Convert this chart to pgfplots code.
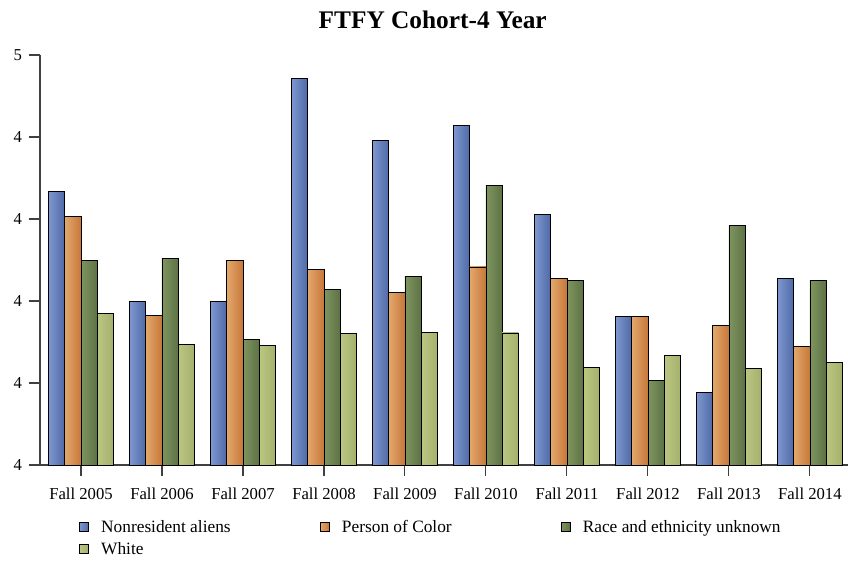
\documentclass[border=0pt]{standalone}
\usepackage{pgfplots}
\usepackage{pgfplotstable}
\pgfplotsset{compat=1.18}
\usepackage{fontspec}
\setmainfont{Liberation Serif}
\definecolor{bL}{HTML}{7E97D0}
\definecolor{bR}{HTML}{4E69A6}
\definecolor{oL}{HTML}{E3A86C}
\definecolor{oR}{HTML}{C7773A}
\definecolor{gL}{HTML}{7F9560}
\definecolor{gR}{HTML}{5D7244}
\definecolor{lL}{HTML}{BBC681}
\definecolor{lR}{HTML}{A4B16C}
\pgfplotstableread{
x blue orange green white
0 4.168 4.107 3.998 3.870
1 3.899 3.864 4.003 3.793
2 3.899 3.998 3.807 3.792
3 4.442 3.976 3.928 3.820
4 4.292 3.920 3.959 3.824
5 4.329 3.983 4.182 3.822
6 4.110 3.954 3.950 3.737
7 3.862 3.863 3.707 3.767
8 3.678 3.841 4.085 3.735
9 3.956 3.789 3.950 3.750
}\datatable
\pgfplotsset{
  sBlue/.style={ybar, bar width=0.2, bar shift=-0.3, left color=bL, right color=bR, draw=black, line width=0.6pt},
  sOrange/.style={ybar, bar width=0.2, bar shift=-0.1, left color=oL, right color=oR, draw=black, line width=0.6pt},
  sGreen/.style={ybar, bar width=0.2, bar shift=0.1, left color=gL, right color=gR, draw=black, line width=0.6pt},
  sWhite/.style={ybar, bar width=0.2, bar shift=0.3, left color=lL, right color=lR, draw=black, line width=0.6pt},
}
\begin{document}
\begin{tikzpicture}
\begin{axis}[
  at={(0pt,0pt)}, anchor=south west,
  scale only axis, width=606pt, height=307.5pt,
  xmin=-0.506, xmax=9.47, ymin=3.5, ymax=4.5,
  ytick={3.5,3.7,3.9,4.1,4.3,4.5},
  yticklabels={4,4,4,4,4,5},
  xtick={0,1,2,3,4,5,6,7,8,9},
  xticklabels={Fall 2005,Fall 2006,Fall 2007,Fall 2008,Fall 2009,Fall 2010,Fall 2011,Fall 2012,Fall 2013,Fall 2014},
  axis x line*=bottom, axis y line*=left,
  axis line style={-, black!75, line width=0.8pt},
  tick align=outside, major tick length=8.5pt,
  tick style={black!75, line width=0.8pt},
  minor tick num=0,
  tick label style={font=\fontsize{12.5}{14}\selectfont},
  x tick label style={yshift=-5.5pt},
  y tick label style={xshift=-1.5pt},
  title={\textbf{FTFY Cohort-4 Year}},
  title style={font=\fontsize{19}{21}\selectfont, at={(0.486,1)}, anchor=base, yshift=13.5pt},
  legend columns=3,
  legend cell align=left,
  legend style={draw=none, at={(0.048,-0.127)}, anchor=north west,
    font=\fontsize{13}{15}\selectfont,
    /tikz/every odd column/.append style={column sep=7pt},
    /tikz/every even column/.append style={column sep=0pt},
    /tikz/row sep=2pt, inner sep=0pt},
  legend image code/.code={\draw[#1, draw=black, line width=0.6pt] (0pt,-3.5pt) rectangle (7pt,3.5pt);},
]
\addlegendimage{sBlue}
\addlegendentry{\makebox[162pt][l]{Nonresident aliens}}
\addlegendimage{sOrange}
\addlegendentry{\makebox[162pt][l]{Person of Color}}
\addlegendimage{sGreen}
\addlegendentry{\makebox[162pt][l]{Race and ethnicity unknown}}
\addlegendimage{sWhite}
\addlegendentry{\makebox[162pt][l]{White}}
\pgfplotsinvokeforeach{0,1,2,3,4,5,6,7,8,9}{
  \addplot[sBlue, forget plot] table[x=x, y=blue, restrict x to domain=#1:#1] {\datatable};
  \addplot[sOrange, forget plot] table[x=x, y=orange, restrict x to domain=#1:#1] {\datatable};
  \addplot[sGreen, forget plot] table[x=x, y=green, restrict x to domain=#1:#1] {\datatable};
  \addplot[sWhite, forget plot] table[x=x, y=white, restrict x to domain=#1:#1] {\datatable};
}
\end{axis}
\pgfresetboundingbox
\path[use as bounding box] (-30pt,-71.25pt) rectangle (606pt,348.75pt);
\end{tikzpicture}
\end{document}
